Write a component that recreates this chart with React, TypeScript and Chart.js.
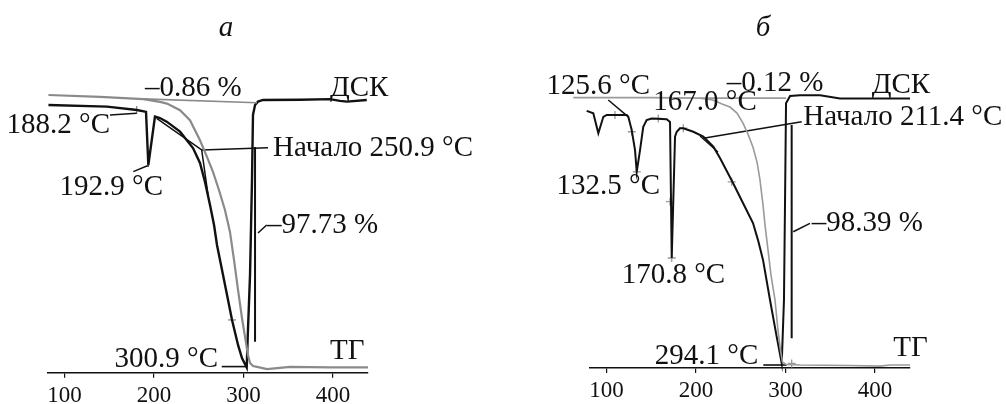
import React, { useEffect, useRef } from "react";
import { Chart, registerables } from "chart.js";

Chart.register(...registerables);

// ---------- shared ----------
const xTicks = [100, 200, 300, 400];
const xMin = 81.5;
const xMax = 439;

// ---------- panel а (T in °C, signal in arbitrary units / TG in %) ----------
const dscTempA = [82, 147.4, 180.9, 189.9, 191.0, 193.6, 201.0, 206.6, 214.1, 229.0, 243.5, 251.3, 256.9, 262.5, 267.0, 270.3, 274.8, 280.4, 287.1, 293.8, 298.2, 303.5, 304.9, 307.2, 309.4, 310.5, 312.8, 316.1, 321.7, 363.0, 396.5, 407.7, 415.5, 437.6];
const dscSignalA = [96.4, 95.8, 94.6, 94.0, 93.9, 74.8, 92.2, 91.7, 90.4, 86.8, 80.9, 75.5, 68.7, 60.4, 53.2, 46.0, 38.8, 29.8, 19.0, 10.0, 5.3, 1.9, 15.4, 35.2, 69.4, 92.8, 96.4, 97.6, 98.2, 98.3, 98.5, 97.9, 97.6, 98.2];
const tgTempA = [82, 139.6, 188.0, 206.6, 214.4, 229.0, 240.1, 251.3, 259.1, 265.8, 272.5, 279.2, 284.8, 289.3, 293.8, 298.2, 301.6, 304.9, 307.2, 310.5, 315.0, 326.2, 351.9, 396.5, 439];
const tgMassA = [100.0, 99.3, 98.5, 97.5, 96.9, 94.5, 90.9, 83.7, 77.7, 72.3, 65.8, 58.6, 50.7, 40.6, 29.8, 19.7, 12.9, 6.4, 3.5, 2.4, 2.1, 1.3, 2.1, 1.9, 1.9];
const stepLineA = [[187.6, 98.6], [315.0, 97.2]];
const stepVertA = [[312.8, 81.3], [312.8, 11.1]];
const onsetTangentA = [[202.9, 91.6], [253.2, 80.2], [260.3, 64.0]];
const onsetLeaderA = [[253.2, 80.2], [327.3, 81.0]];
const leader1882 = [[150.8, 92.8], [180.6, 93.4]];
const leader1929 = [[176.8, 72.4], [191.8, 74.4], [194.3, 74.4]];
const leaderLossA = [[316.1, 50.3], [325.8, 53.2]];
const leader3009 = [[275.6, 2.2], [303.5, 2.2]];
const markersA = [[180.6, 94.6, "line", 90], [287.1, 19.0, "line", 0]];
const labelsA = [
  { text: "–0.86 %", t: 189.9, v: 102.2, align: "left" },
  { text: "ДСК", t: 396.5, v: 102.5, align: "left" },
  { text: "188.2 °C", t: 150.8, v: 89.0, align: "right" },
  { text: "192.9 °C", t: 210.0, v: 66.9, align: "right" },
  { text: "Начало 250.9 °C", t: 332.9, v: 80.9, align: "left" },
  { text: "–97.73 %", t: 326.2, v: 53.2, align: "left" },
  { text: "300.9 °C", t: 271.4, v: 4.9, align: "right" },
  { text: "ТГ", t: 396.5, v: 7.6, align: "left" },
];

// ---------- panel б ----------
const dscTempB = [62.8, 77.8, 85.2, 90.8, 96.4, 100.2, 122.5, 124.3, 128.1, 131.8, 133.7, 137.4, 141.0, 144.8, 150.4, 167.2, 170.9, 172.8, 176.5, 178.4, 182.0, 185.7, 196.9, 208.1, 219.3, 226.7, 241.3, 252.4, 263.6, 269.2, 274.8, 282.6, 290.1, 295.7, 298.2, 299.4, 300.5, 305.0, 316.1, 338.5, 360.8, 439.0];
const dscSignalB = [92.7, 94.9, 94.0, 86.6, 92.7, 93.4, 93.4, 92.7, 87.8, 80.4, 72.4, 80.4, 89.0, 91.5, 92.1, 91.8, 90.8, 40.6, 85.4, 87.2, 88.5, 88.5, 87.2, 85.4, 81.7, 77.5, 68.3, 60.9, 53.5, 47.2, 39.9, 25.1, 11.5, 1.7, 25.1, 62.0, 97.7, 100.4, 100.7, 100.7, 99.5, 99.5];
const tgTempB = [62.8, 148.5, 204.4, 218.9, 229.0, 237.9, 245.7, 252.4, 258.0, 263.6, 268.1, 271.4, 274.8, 277.0, 280.4, 283.7, 288.2, 291.5, 294.3, 296.6, 300.5, 316.1, 372.0, 405.5, 416.7, 439];
const tgMassB = [99.8, 99.8, 99.6, 98.9, 97.4, 96.3, 94.1, 90.4, 86.3, 81.5, 76.0, 69.4, 60.1, 52.8, 43.5, 34.3, 25.1, 14.0, 6.6, 2.2, 1.3, 1.1, 0.9, 0.7, 1.1, 1.1];
const stepLineB = [[204.4, 99.6], [300.5, 99.6]];
const stepVertB = [[306.8, 89.7], [306.8, 11.0]];
const onsetTangentB = [[204.4, 85.6], [224.5, 79.7]];
const onsetLeaderB = [[208.1, 84.8], [318.0, 90.9]];
const leader1256 = [[101.9, 98.9], [124.3, 92.7]];
const leaderLossB = [[308.6, 50.3], [327.2, 53.4]];
const leader2941 = [[275.1, 1.1], [301.2, 1.1]];
const markersB = [
  [109.4, 93.4, "cross", 0], [128.1, 87.2, "cross", 0], [133.7, 72.4, "line", 0],
  [157.8, 92.1, "cross", 0], [170.9, 61.4, "cross", 0], [172.8, 40.6, "cross", 0],
  [185.7, 88.5, "cross", 0], [239.8, 68.7, "cross", 0], [306.8, 1.7, "cross", 0],
];
const labelsB = [
  { text: "125.6 °C", t: 148.5, v: 103.8, align: "right" },
  { text: "–0.12 %", t: 234.2, v: 105.2, align: "left" },
  { text: "ДСК", t: 396.2, v: 104.4, align: "left" },
  { text: "167.0 °C", t: 152.2, v: 98.0, align: "left" },
  { text: "Начало 211.4 °C", t: 319.8, v: 92.6, align: "left" },
  { text: "132.5 °C", t: 159.7, v: 67.2, align: "right" },
  { text: "170.8 °C", t: 116.9, v: 34.3, align: "left" },
  { text: "–98.39 %", t: 329.2, v: 53.4, align: "left" },
  { text: "294.1 °C", t: 269.5, v: 4.4, align: "right" },
  { text: "ТГ", t: 420.3, v: 7.4, align: "left" },
];

// ---------- helpers ----------
const SERIF = "'Liberation Serif', 'Times New Roman', serif";
const BLACK = "#111111";

const series = (t: number[], v: number[], color: string, width: number, extra: any = {}) => ({
  type: "line",
  data: t.map((x, i) => ({ x, y: v[i] })),
  borderColor: color,
  borderWidth: width,
  pointRadius: 0,
  tension: 0,
  fill: false,
  clip: false,
  ...extra,
});
const seg = (pts: number[][], color: string, width: number) =>
  series(pts.map((p) => p[0]), pts.map((p) => p[1]), color, width);
const marks = (pts: any[], color: string) => ({
  type: "line",
  showLine: false,
  data: pts.map((p) => ({ x: p[0], y: p[1] })),
  pointStyle: pts.map((p) => p[2]),
  pointRotation: pts.map((p) => p[3]),
  pointRadius: 4,
  pointBorderColor: color,
  pointBorderWidth: 1.3,
  pointBackgroundColor: color,
  clip: false,
});

const textPlugin = {
  id: "annot",
  afterDatasetsDraw(chart: any, _args: any, opts: any) {
    const { ctx, scales } = chart;
    ctx.save();
    ctx.font = `29px ${SERIF}`;
    ctx.fillStyle = BLACK;
    ctx.textBaseline = "middle";
    for (const l of opts.labels || []) {
      ctx.textAlign = l.align;
      ctx.fillText(l.text, scales.x.getPixelForValue(l.t), scales.y.getPixelForValue(l.v));
    }
    ctx.restore();
  },
};

function makeConfig(datasets: any[], labels: any[], pad: any, axisH: number) {
  return {
    type: "line",
    data: { datasets },
    plugins: [textPlugin],
    options: {
      animation: false,
      responsive: false,
      maintainAspectRatio: false,
      devicePixelRatio: 1,
      layout: { padding: pad },
      plugins: { legend: { display: false }, tooltip: { enabled: false }, annot: { labels } },
      scales: {
        x: {
          type: "linear",
          position: "bottom",
          min: xMin,
          max: xMax,
          afterBuildTicks: (s: any) => {
            s.ticks = xTicks.map((value) => ({ value }));
          },
          afterFit: (s: any) => {
            s.height = axisH;
          },
          grid: { display: true, drawOnChartArea: false, drawTicks: true, tickLength: 5, color: BLACK, lineWidth: 1.2 },
          border: { display: true, color: BLACK, width: 1.5 },
          ticks: { color: BLACK, font: { family: SERIF, size: 23 }, padding: 4, maxRotation: 0, autoSkip: false },
        },
        y: { display: false, min: 0, max: 105 },
      },
    },
  };
}

function Panel({ left, config }: { left: number; config: any }) {
  const ref = useRef<HTMLCanvasElement | null>(null);
  useEffect(() => {
    if (!ref.current) return;
    const chart = new Chart(ref.current, config);
    return () => chart.destroy();
  }, []);
  return (
    <canvas
      ref={ref}
      width={503}
      height={404}
      style={{ position: "absolute", left, top: 0, width: 503, height: 404 }}
    />
  );
}

export default function App() {
  const GREY_A = "#8a8a8a";
  const GREY_B = "#9a9a9a";
  const dsA = [
    series(tgTempA, tgMassA, GREY_A, 2.2),
    seg(stepLineA, GREY_A, 1.6),
    series(dscTempA, dscSignalA, BLACK, 2.4),
    seg(onsetTangentA, BLACK, 1.5),
    seg(onsetLeaderA, BLACK, 1.6),
    seg(stepVertA, BLACK, 2),
    seg(leader1882, BLACK, 1.5),
    seg(leader1929, BLACK, 1.5),
    seg(leaderLossA, BLACK, 1.5),
    seg(leader3009, BLACK, 1.6),
    marks(markersA, GREY_A),
  ];
  const dsB = [
    series(tgTempB, tgMassB, GREY_B, 1.6),
    seg(stepLineB, GREY_B, 1.6),
    series(dscTempB, dscSignalB, BLACK, 2),
    seg(onsetTangentB, BLACK, 1.3),
    seg(onsetLeaderB, BLACK, 1.6),
    seg(stepVertB, BLACK, 2),
    seg(leader1256, BLACK, 1.5),
    seg(leaderLossB, BLACK, 1.5),
    seg(leader2941, BLACK, 1.6),
    marks(markersB, GREY_B),
  ];
  const cfgA = makeConfig(dsA, labelsA, { left: 48, right: 135, top: 81.1, bottom: 0 }, 31.3);
  const cfgB = makeConfig(dsB, labelsB, { left: 87, right: 96, top: 83.5, bottom: 0 }, 36);
  const letter: React.CSSProperties = {
    position: "absolute",
    top: 12,
    font: `italic 29px ${SERIF}`,
    lineHeight: "28px",
    color: BLACK,
    transform: "translateX(-50%)",
  };
  return (
    <div style={{ position: "fixed", left: 0, top: 0, width: 1006, height: 404, background: "#fff", overflow: "hidden" }}>
      <Panel left={0} config={cfgA} />
      <Panel left={503} config={cfgB} />
      <div style={{ ...letter, left: 226 }}>а</div>
      <div style={{ ...letter, left: 763 }}>б</div>
    </div>
  );
}
